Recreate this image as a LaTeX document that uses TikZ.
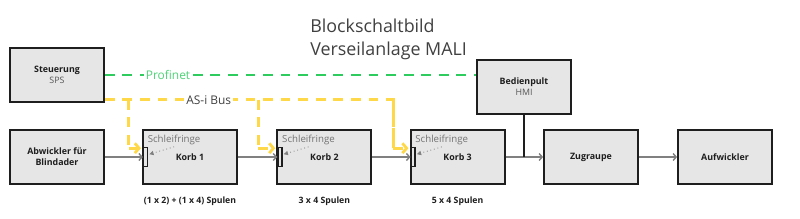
\documentclass[tikz,border=0pt]{standalone}
\usepackage{fontspec}
\setmainfont{Open Sans}
\usepackage{tikz}
\usetikzlibrary{arrows.meta, positioning, calc}
\definecolor{boxfill}{HTML}{E6E6E6}
\definecolor{boxline}{HTML}{1E1E1E}
\definecolor{linegray}{HTML}{808080}
\definecolor{textgray}{HTML}{555555}
\definecolor{busyellow}{HTML}{FFD84A}
\definecolor{netgreen}{HTML}{2ECC5F}

\begin{document}
\begin{tikzpicture}[>=Stealth,
  block/.style={draw=boxline, line width=1.3pt, fill=boxfill, minimum width=2.35cm,
    minimum height=1.35cm, align=center, text=boxline,
    font=\fontsize{6.3}{7.9}\selectfont\bfseries},
  ring/.style={draw=boxline, line width=0.9pt, fill=boxfill, minimum width=0.1cm,
    minimum height=0.48cm, inner sep=0pt},
  flow/.style={draw=linegray, line width=1pt, -{Straight Barb[length=2.2pt, width=5pt]}},
  asibus/.style={draw=busyellow, line width=2pt, dash pattern=on 7pt off 5.5pt},
  pointer/.style={draw=linegray, line width=0.6pt, dotted, -{Triangle[length=3pt, width=3pt]}}]
  \useasboundingbox (0, 0) rectangle (20, 5.45);

  % Title
  \node[inner sep=0pt, anchor=base west, text=boxline!85, font=\fontsize{12.7}{15}\selectfont]
    (title1) at (7.75, 4.65) {Blockschaltbild};
  \node[inner sep=0pt, anchor=base west, text=boxline!85, font=\fontsize{12.7}{15}\selectfont]
    (title2) at (7.75, 4.05) {Verseilanlage MALI};

  % Blocks
  \node[block] (steuer) at (1.425, 3.575) {Steuerung\\{\mdseries\color{textgray}SPS}};
  \node[block] (bed) at (13.1, 3.275) {Bedienpult\\{\mdseries\color{textgray}HMI}};
  \node[block] (abw) at (1.425, 1.525) {Abwickler für\\Blindader};
  \node[block] (korb1) at (4.75, 1.525) {Korb 1};
  \node[block] (korb2) at (8.11, 1.525) {Korb 2};
  \node[block] (korb3) at (11.44, 1.525) {Korb 3};
  \node[block] (zug) at (14.775, 1.525) {Zugraupe};
  \node[block] (aufw) at (18.125, 1.525) {Aufwickler};

  % Schleifringe
  \foreach \k in {1, 2, 3} {
    \node[ring, anchor=west] (ring\k) at ($(korb\k.west)+(0.02,0)$) {};
    \node[anchor=west, inner sep=1pt, text=linegray!90!black, font=\fontsize{6.9}{8}\selectfont]
      (sr\k) at ($(korb\k.north west)+(0.1,-0.28)$) {Schleifringe};
    \draw[pointer] (sr\k.south) -- ($(ring\k.east)+(0.03,0.07)$);
  }

  % Spulen
  \node[below=0.17cm of korb1, font=\fontsize{6.2}{7.8}\selectfont\bfseries, text=boxline]
    (sp1) {(1 x 2) + (1 x 4) Spulen};
  \node[below=0.17cm of korb2, font=\fontsize{6.2}{7.8}\selectfont\bfseries, text=boxline]
    (sp2) {3 x 4 Spulen};
  \node[below=0.17cm of korb3, font=\fontsize{6.2}{7.8}\selectfont\bfseries, text=boxline]
    (sp3) {5 x 4 Spulen};

  % Material flow
  \draw[flow] (abw.east) -- (ring1.west);
  \draw[flow] (korb1.east) -- (ring2.west);
  \draw[flow] (korb2.east) -- (ring3.west);
  \draw[flow] (korb3.east) -- (zug.west);
  \draw[flow] (zug.east) -- (aufw.west);
  \draw[draw=boxline, line width=1pt] (bed.south) -- (bed.south |- zug.west);

  % Profinet
  \draw[draw=netgreen, line width=2pt, dash pattern=on 7pt off 5.5pt]
    (steuer.east) -- (steuer.east -| bed.west)
    node[pos=0.17, fill=white, inner sep=1.5pt, text=netgreen!85,
      font=\fontsize{8.5}{10}\selectfont] (pn) {Profinet};

  % AS-i Bus
  \coordinate (asi) at ($(steuer.south east)+(0,0.08)$);
  \foreach \k/\d in {1/0.3, 2/0.42, 3/0.38} {
    \coordinate (in\k) at ($(ring\k.west)+(-0.05,0.22)$);
    \coordinate (tap\k) at ($(in\k)+(-\d,0)$);
  }
  \draw[asibus] (asi) -| node[pos=0.18, fill=white, inner sep=1.5pt, text=boxline!85,
      font=\fontsize{8.5}{10}\selectfont] (asil) {AS-i Bus} (tap3);
  \foreach \k in {1, 2, 3} {
    \draw[asibus] (asi -| tap\k) -- (tap\k);
    \draw[asibus, -{Straight Barb[length=3pt, width=7pt]}] (tap\k) -- (in\k);
  }
\end{tikzpicture}
\end{document}
